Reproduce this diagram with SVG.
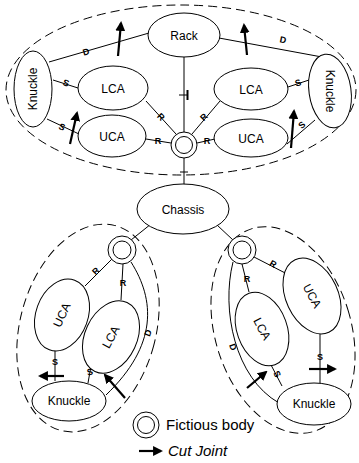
<svg xmlns="http://www.w3.org/2000/svg" width="359" height="463" viewBox="0 0 359 463">
<defs>
<marker id="ah" viewBox="0 0 10 10" refX="8" refY="5" markerWidth="4.5" markerHeight="4.5" orient="auto" markerUnits="strokeWidth">
<path d="M0,0 L10,5 L0,10 z" fill="#000"/>
</marker>
<style>
.n{fill:#fff;stroke:#000;stroke-width:1}
.grp{fill:none;stroke:#000;stroke-width:1;stroke-dasharray:9,5}
.c{fill:none;stroke:#000;stroke-width:1}
.t{font-family:"Liberation Sans",Arial,sans-serif;font-size:12px;fill:#000;text-anchor:middle}
.j{font-family:"Liberation Sans",Arial,sans-serif;font-size:9px;font-weight:bold;fill:#000;text-anchor:middle}
.cut{stroke:#000;stroke-width:2.2;fill:none;marker-end:url(#ah)}
</style>
</defs>
<rect width="359" height="463" fill="#fff"/>

<!-- group outlines -->
<g id="groups">
<ellipse class="grp" cx="181" cy="90" rx="175" ry="85"/>
<ellipse class="grp" cx="88" cy="328" rx="68" ry="106" transform="rotate(15 88 328)"/>
<ellipse class="grp" cx="283" cy="330" rx="68" ry="106" transform="rotate(-17 283 330)"/>
</g>

<!-- connectors -->
<g id="connectors">
<!-- top -->
<line class="c" x1="49" y1="62" x2="149" y2="33"/>
<line class="c" x1="53" y1="80" x2="78" y2="88"/>
<line class="c" x1="47" y1="119" x2="79" y2="134"/>
<line class="c" x1="146" y1="101" x2="176" y2="134"/>
<line class="c" x1="146" y1="139" x2="171" y2="143"/>
<line class="c" x1="184" y1="57" x2="184" y2="132"/>
<line class="c" x1="219" y1="38" x2="322" y2="57"/>
<line class="c" x1="288" y1="87" x2="309" y2="80"/>
<line class="c" x1="287" y1="144" x2="315" y2="120"/>
<line class="c" x1="220" y1="101" x2="192" y2="134"/>
<line class="c" x1="215" y1="139" x2="197" y2="143"/>
<line class="c" x1="184" y1="158" x2="184" y2="185"/>
<line class="c" x1="180" y1="172" x2="188" y2="172"/>
<!-- prismatic symbol -->
<line class="c" x1="179" y1="95" x2="187" y2="95"/>
<line x1="187.5" y1="90" x2="187.5" y2="100" stroke="#000" stroke-width="2"/>
<!-- chassis to bodies -->
<line class="c" x1="151" y1="224" x2="131" y2="240"/>
<line class="c" x1="217" y1="225" x2="233" y2="240"/>
<!-- bottom left -->
<line class="c" x1="112" y1="259" x2="85" y2="286"/>
<line class="c" x1="123" y1="264" x2="121" y2="300"/>
<path class="c" d="M131,262 C155,300 158,345 106,395"/>
<line class="c" x1="55" y1="349" x2="55" y2="381"/>
<line class="c" x1="91" y1="366" x2="88" y2="383"/>
<!-- bottom right -->
<line class="c" x1="254" y1="257" x2="291" y2="276"/>
<line class="c" x1="242" y1="264" x2="249" y2="292"/>
<path class="c" d="M233,262 C221,310 235,378 279,403"/>
<line class="c" x1="320" y1="334" x2="320" y2="383"/>
<line class="c" x1="270" y1="363" x2="282" y2="386"/>
</g>

<!-- joint labels -->
<g id="joint-labels">
<text class="j" x="86" y="55" transform="rotate(-16 86 52)">D</text>
<text class="j" x="66" y="86" transform="rotate(18 66 83)">S</text>
<text class="j" x="62" y="130" transform="rotate(25 62 127)">S</text>
<text class="j" x="161" y="120" transform="rotate(45 161 117)">R</text>
<text class="j" x="158" y="144">R</text>
<text class="j" x="283" y="43" transform="rotate(11 283 40)">D</text>
<text class="j" x="298" y="86" transform="rotate(-20 298 83)">S</text>
<text class="j" x="302" y="128" transform="rotate(-40 302 125)">S</text>
<text class="j" x="204" y="120" transform="rotate(-45 204 117)">R</text>
<text class="j" x="207" y="144">R</text>
<text class="j" x="96" y="274" transform="rotate(-45 96 271)">R</text>
<text class="j" x="123" y="286">R</text>
<text class="j" x="148" y="336" transform="rotate(-70 148 333)">D</text>
<text class="j" x="55" y="365">S</text>
<text class="j" x="90" y="375" transform="rotate(-10 90 372)">S</text>
<text class="j" x="273" y="267" transform="rotate(30 273 264)">R</text>
<text class="j" x="247" y="282">R</text>
<text class="j" x="233" y="350" transform="rotate(70 233 347)">D</text>
<text class="j" x="320" y="360">S</text>
<text class="j" x="277" y="377" transform="rotate(60 277 374)">S</text>
</g>

<!-- cut joint arrows -->
<g id="cut-joints">
<line class="cut" x1="118" y1="56" x2="121" y2="23"/>
<line class="cut" x1="247" y1="55" x2="244" y2="25"/>
<line class="cut" x1="70" y1="144" x2="77" y2="113"/>
<line class="cut" x1="291" y1="148" x2="294" y2="111"/>
<line class="cut" x1="64" y1="376" x2="40" y2="376"/>
<line class="cut" x1="125" y1="398" x2="105" y2="375"/>
<line class="cut" x1="309" y1="369" x2="335" y2="369"/>
<line class="cut" x1="247" y1="388" x2="266" y2="372"/>
</g>

<!-- nodes -->
<g id="rack"><ellipse class="n" cx="184" cy="35" rx="36" ry="22"/><text class="t" x="184" y="40">Rack</text></g>
<g id="knuckle-tl"><ellipse class="n" cx="33" cy="89" rx="19" ry="38"/><text class="t" x="33" y="89" font-size="11" transform="rotate(-90 33 89)" dy="4">Knuckle</text></g>
<g id="lca-tl"><ellipse class="n" cx="113" cy="88" rx="35" ry="22"/><text class="t" x="113" y="93">LCA</text></g>
<g id="uca-tl"><ellipse class="n" cx="112" cy="136" rx="34" ry="21"/><text class="t" x="112" y="141">UCA</text></g>
<g id="lca-tr"><ellipse class="n" cx="251" cy="89" rx="37" ry="21"/><text class="t" x="251" y="94">LCA</text></g>
<g id="uca-tr"><ellipse class="n" cx="251" cy="138" rx="37" ry="19"/><text class="t" x="251" y="143">UCA</text></g>
<g id="knuckle-tr"><ellipse class="n" cx="330" cy="91" rx="21" ry="37" transform="rotate(-8 330 91)"/><text class="t" x="330" y="91" font-size="11" transform="rotate(90 330 91)" dy="4">Knuckle</text></g>
<g id="body-top"><circle class="n" cx="184" cy="145" r="13"/><circle class="n" cx="184" cy="145" r="8.5"/></g>
<g id="chassis"><ellipse class="n" cx="183" cy="209" rx="46" ry="25"/><text class="t" x="183" y="214" font-size="15">Chassis</text></g>
<g id="body-bl"><circle class="n" cx="122" cy="250" r="14"/><circle class="n" cx="122" cy="250" r="9"/></g>
<g id="uca-bl"><ellipse class="n" cx="62" cy="315" rx="26" ry="37" transform="rotate(20 62 315)"/><text class="t" x="62" y="315" dy="4" transform="rotate(-65 62 315)">UCA</text></g>
<g id="lca-bl"><ellipse class="n" cx="111" cy="337" rx="26" ry="38" transform="rotate(25 111 337)"/><text class="t" x="111" y="337" dy="4" transform="rotate(-62 111 337)">LCA</text></g>
<g id="knuckle-bl"><ellipse class="n" cx="69" cy="401" rx="37" ry="20"/><text class="t" x="69" y="405" font-size="11">Knuckle</text></g>
<g id="body-br"><circle class="n" cx="242" cy="250" r="14"/><circle class="n" cx="242" cy="250" r="9"/></g>
<g id="uca-br"><ellipse class="n" cx="312" cy="296" rx="26" ry="40" transform="rotate(-25 312 296)"/><text class="t" x="312" y="296" dy="4" transform="rotate(62 312 296)">UCA</text></g>
<g id="lca-br"><ellipse class="n" cx="262" cy="329" rx="25" ry="38" transform="rotate(-20 262 329)"/><text class="t" x="262" y="329" dy="4" transform="rotate(62 262 329)">LCA</text></g>
<g id="knuckle-br"><ellipse class="n" cx="314" cy="404" rx="37" ry="21"/><text class="t" x="314" y="408" font-size="11">Knuckle</text></g>

<!-- legend -->
<g id="legend">
<circle class="n" cx="146" cy="425" r="13"/><circle class="n" cx="146" cy="425" r="8.5"/>
<text x="166" y="430" font-family="Liberation Sans,Arial,sans-serif" font-size="15">Fictious body</text>
<line class="cut" x1="139" y1="451" x2="161" y2="451"/>
<text x="168" y="456" font-family="Liberation Sans,Arial,sans-serif" font-size="15" font-style="italic">Cut Joint</text>
</g>
</svg>
